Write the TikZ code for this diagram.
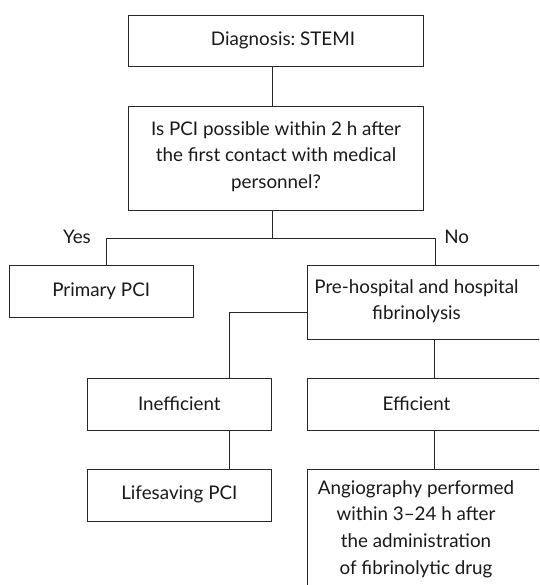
\documentclass[tikz,border=0pt]{standalone}
\usepackage{fontspec}
\setmainfont{Lato}
\frenchspacing
\begin{document}
\begin{tikzpicture}[x=1pt,y=-1pt,
  box/.style={draw=black!85,line width=0.9pt,rectangle,inner sep=0pt},
  txt/.style={align=center,font=\fontsize{18.8}{26.7}\selectfont,inner sep=0pt,text=black!90},
  conn/.style={draw=black!85,line width=0.9pt}]
\useasboundingbox (0,0) rectangle (539,585);
\clip (0,0) rectangle (539,585);
% boxes
\node[box,minimum width=295.4pt,minimum height=51.7pt] (diag) at (276,40.85) {};
\node[txt] (diagT) at (283,40) {Diagnosis: STEMI};
\node[box,minimum width=295.4pt,minimum height=104pt] (q) at (276,158) {};
\node[txt] (qT) at (276,156.5) {Is PCI possible within 2 h after\\the first contact with medical\\personnel?};
\node[box,minimum width=184.3pt,minimum height=51.3pt] (prim) at (101.2,291.35) {};
\node[txt] (primT) at (101.2,291) {Primary PCI};
\node[box,minimum width=252.7pt,minimum height=73.6pt] (pre) at (433.65,302.5) {};
\node[txt] (preT) at (416.5,301.3) {Pre-hospital and hospital\\fibrinolysis};
\node[box,minimum width=184.7pt,minimum height=51.6pt] (ineff) at (179.35,404.5) {};
\node[txt] (ineffT) at (179.35,403.5) {Inefficient};
\node[box,minimum width=252.7pt,minimum height=51.6pt] (eff) at (433.65,404.5) {};
\node[txt] (effT) at (416.5,403.5) {Efficient};
\node[box,minimum width=184.7pt,minimum height=51.7pt] (life) at (179.35,495.15) {};
\node[txt] (lifeT) at (179.35,494.5) {Lifesaving PCI};
\node[box,minimum width=252.7pt,minimum height=150pt] (angio) at (433.65,544.3) {};
\node[txt] (angioT) at (416,529) {Angiography performed\\within 3--24 h after\\the administration\\of fibrinolytic drug};
% labels
\node[txt] (yes) at (77,236.7) {Yes};
\node[txt] (no) at (456.7,236.7) {No};
% connector coordinates
\coordinate (cx) at (272,0);
\coordinate (ja) at (106.7,238.7);
\coordinate (jb) at (435,238.7);
\coordinate (jc) at (229.7,312.7);
\coordinate (jd) at (434,0);
\draw[conn] (diag.south -| cx) -- (q.north -| cx);
\draw[conn] (q.south -| cx) -- (cx |- ja);
\draw[conn] (ja |- prim.north) -- (ja) -- (jb) -- (jb |- pre.north);
\draw[conn] (pre.west |- jc) -- (jc) -- (jc |- ineff.north);
\draw[conn] (jc |- ineff.south) -- (jc |- life.north);
\draw[conn] (pre.south -| jd) -- (eff.north -| jd);
\draw[conn] (eff.south -| jd) -- (angio.north -| jd);
\end{tikzpicture}
\end{document}
